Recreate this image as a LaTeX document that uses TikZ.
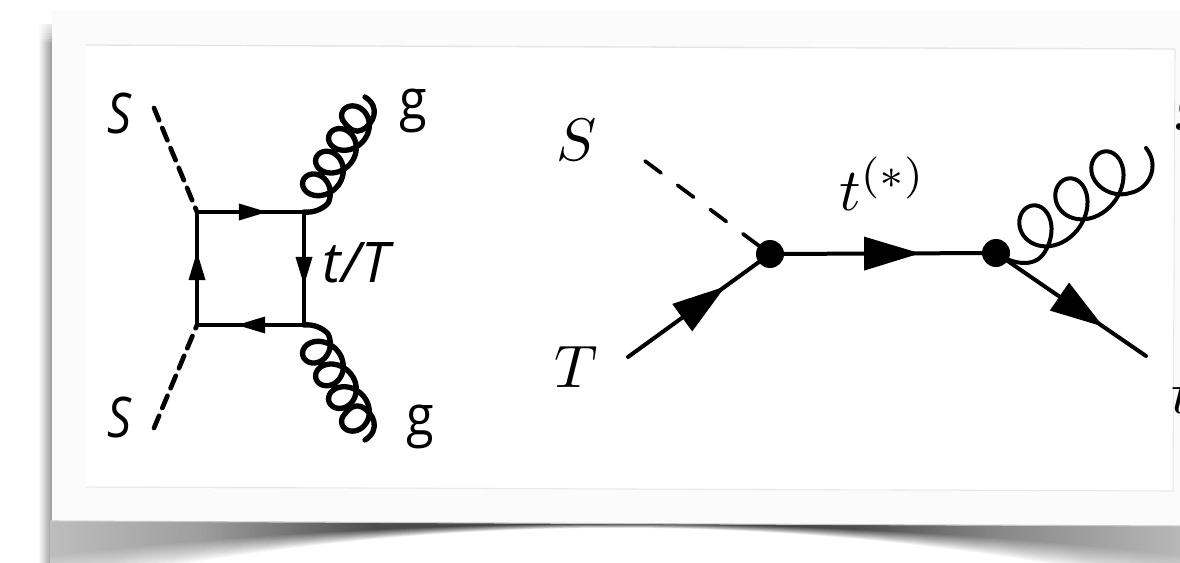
\documentclass[tikz,border=0pt]{standalone}
\usepackage{fontspec}
\usetikzlibrary{decorations.markings}
\newfontfamily\labfont{Open Sans}
\pgfdeclarehorizontalshading{bandshade}{100bp}{
  color(0bp)=(black!25); color(25bp)=(black!25); color(32bp)=(black!38); color(39.7bp)=(black!70);
  color(50bp)=(black!75); color(60.8bp)=(black!70); color(67bp)=(black!47); color(75bp)=(black!28); color(100bp)=(black!28)}
\tikzset{
  fermion/.style n args={3}{postaction={decorate,decoration={markings,mark=at position #1 with {\fill[black] (-#2,-#3) -- (0,0) -- (-#2,#3) -- cycle;}}}},
  boxline/.style={line width=3.5pt,black,line join=miter},
  scalarA/.style={line width=3.5pt,black,line cap=round,dash pattern=on 10pt off 6.2pt},
  scalarB/.style={line width=2.8pt,black,line cap=round,dash pattern=on 15pt off 15.5pt},
  lineB/.style={line width=3pt,black,line cap=round},
  gluonA/.style={line width=4pt,black,line cap=round,line join=round},
  gluonB/.style={line width=3pt,black,line cap=round,line join=round},
  vertexdot/.style={circle,fill=black,inner sep=0pt,minimum size=21pt},
  sanslab/.style={inner sep=0pt,font=\labfont\fontsize{42}{46}\selectfont},
  mathlab/.style={inner sep=0pt,scale=4.5},
}
\begin{document}
\begin{tikzpicture}[x=0.75pt,y=-0.75pt]
\useasboundingbox (0,0) rectangle (1180,563);
\begin{scope}
\clip (0,0) rectangle (1180,563);
% shadows
\shade[left color=white,right color=black!40] (38,25) rectangle (52,563);
\foreach \k in {1,...,10}{\fill[white,opacity=0.2] (36,10) rectangle (52,{12+3*\k});}
\begin{scope}
\clip (50,520) rectangle (1180,563);
\shade[shading=bandshade] (40,520) rectangle (1180,563);
\foreach \k in {0,...,16}{
  \pgfmathsetmacro{\tv}{\k/16}
  \pgfmathsetmacro{\ov}{1/(17-\k)}
  \fill[white,opacity=\ov] plot[domain=0:1180,samples=40,smooth] (\x,{524+4*\tv+(1+0.9*\tv)*pow((\x-617)/100,2)}) -- (1180,570) -- (0,570) -- cycle;
}
\end{scope}
% panel
\fill[black!1.5] (52,10) -- (1180,11) -- (1180,526) -- (52,521) -- cycle;
\draw[black!22,line width=0.8pt] (52,521) -- (1180,526);
\fill[white] (86,45) -- (1175,49) -- (1173,491) -- (86,487) -- cycle;
\draw[black!10,line width=1pt] (86,45) -- (1175,49);
\draw[black!9,line width=0.8pt] (86,487) -- (1173,491) -- (1175,49);

% left diagram
\coordinate (a) at (197,212);
\coordinate (b) at (304,212);
\coordinate (c) at (304,325);
\coordinate (d) at (197,325);
\coordinate (s1) at (154,108);
\coordinate (s2) at (154,428);
\coordinate (g1) at (365,97);
\coordinate (g2) at (365,440);
\draw[scalarA] (s1) -- (a);
\draw[scalarA] (s2) -- (d);
\draw[gluonA] (b) .. controls (312,213) and (322,210) .. (328.1,203)
  -- plot[domain=-50:1260,samples=150,variable=\p] ({314.2+(\p/360)*13+15*cos(\p)-8*sin(\p)},{194.3-(\p/360)*22.7-8*cos(\p)-14*sin(\p)})
  .. controls (350,130) and (356,133) .. (362,130)
  .. controls (374,124) and (381,107) .. (g1);
\draw[gluonA] (c) .. controls (312,324) and (322,327) .. (328.1,334)
  -- plot[domain=-50:1260,samples=150,variable=\p] ({314.2+(\p/360)*13+15*cos(\p)-8*sin(\p)},{342.7+(\p/360)*22.7+8*cos(\p)+14*sin(\p)})
  .. controls (350,407) and (356,404) .. (362,407)
  .. controls (374,413) and (381,430) .. (g2);
\draw[boxline,fermion={0.654}{28}{8.5}] (a) -- (b);
\draw[boxline,fermion={0.646}{28}{8.5}] (b) -- (c);
\draw[boxline,fermion={0.626}{28}{8.5}] (c) -- (d);
\draw[boxline,fermion={0.646}{28}{8.5}] (d) -- (a);
\node[sanslab,xscale=0.85] (ls1) at (119,113) {\itshape S};
\node[sanslab,xscale=0.85] (ls2) at (119,417) {\itshape S};
\node[sanslab,anchor=base,xscale=0.9] (lg1) at (413,120) {g};
\node[sanslab,anchor=base,xscale=0.9] (lg2) at (420,435) {g};
\node[sanslab,anchor=base] (ltt) at (356,282) {\itshape t/T};

% right diagram
\coordinate (v1) at (770,254);
\coordinate (v2) at (996,253);
\coordinate (p1) at (645,161);
\coordinate (p2) at (628,357);
\coordinate (p3) at (1146,148);
\coordinate (p4) at (1146,356);
\draw[scalarB] (p1) -- (v1);
\draw[lineB,fermion={0.684}{53}{17}] (p2) -- (v1);
\draw[lineB,fermion={0.664}{56}{17}] (v1) -- (v2);
\draw[lineB,fermion={0.714}{53}{17}] (v2) -- (p4);
\draw[gluonB] (v2) .. controls (1015,266) and (1038,268) .. (1046.3,249)
  -- plot[domain=-50:900,samples=120,variable=\p] ({1029+(\p/360)*36+22*cos(\p)-10.7*sin(\p)},{237-(\p/360)*27-14*cos(\p)-23*sin(\p)})
  .. controls (1104,192) and (1118,197) .. (1130,193)
  .. controls (1150,189) and (1160,165) .. (p3);
\node[vertexdot] (nv1) at (v1) {};
\node[vertexdot] (nv2) at (v2) {};
\node[mathlab] (ls) at (577,140) {$S$};
\node[mathlab] (lt) at (576,367) {$T$};
\node[mathlab,anchor=base west] (lts) at (838,210) {$t^{(*)}$};
\node[mathlab,anchor=base west] (lgr) at (1174,118) {$g$};
\node[mathlab,anchor=base west] (ltb) at (1170,413) {$t$};
\end{scope}
\end{tikzpicture}
\end{document}
